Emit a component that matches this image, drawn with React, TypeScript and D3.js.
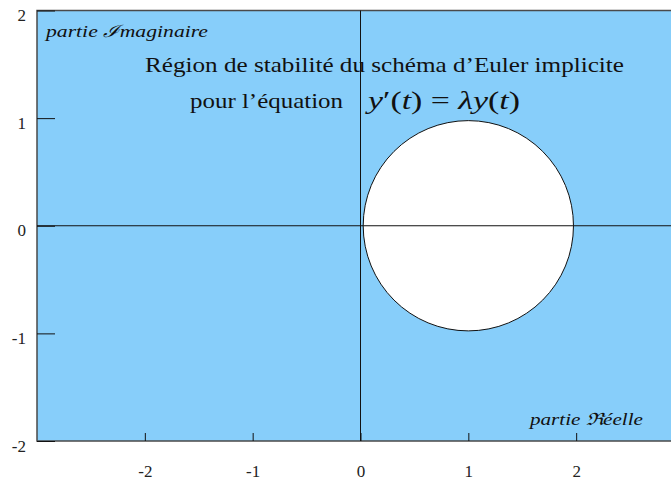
import * as d3 from "d3";
import { useEffect, useRef } from "react";

// axes
const xTicks = [-2, -1, 0, 1, 2];
const yTicks = [-2, -1, 0, 1, 2];
const xDomain = [-3, 3];
const yDomain = [-2, 2];

// disque blanc centré en 1, rayon ~1
const circleCenter = [1, 0];
const circleRadius = 0.975;

const titleLine1 = "Région de stabilité du schéma d’Euler implicite";
const titleLine2 = "pour l’équation";
const labelIm = "ℐmaginaire";
const labelRe = "ℜéelle";

export default function App() {
    const svgRef = useRef<SVGSVGElement>(null);
    const width = 671;
    const height = 481;

    useEffect(() => {
        const svg = d3.select(svgRef.current);
        svg.selectAll("*").remove();

        const x = d3.scaleLinear().domain(xDomain).range([37, 684]);
        const y = d3.scaleLinear().domain(yDomain).range([441, 10.5]);
        const serif = "'Liberation Serif', 'Times New Roman', serif";

        // fond bleu + cadre
        svg.append("rect")
            .attr("x", x(xDomain[0]))
            .attr("y", y(yDomain[1]))
            .attr("width", x(xDomain[1]) - x(xDomain[0]))
            .attr("height", y(yDomain[0]) - y(yDomain[1]))
            .attr("fill", "#87cefa")
            .attr("stroke", "#4a4a4a")
            .attr("stroke-width", 1.5);

        // disque blanc
        svg.append("circle")
            .attr("cx", x(circleCenter[0]))
            .attr("cy", y(circleCenter[1]))
            .attr("r", x(circleRadius) - x(0))
            .attr("fill", "white")
            .attr("stroke", "#111")
            .attr("stroke-width", 1);

        // axes du plan complexe
        svg.append("line")
            .attr("x1", x(0)).attr("x2", x(0))
            .attr("y1", y(yDomain[0])).attr("y2", y(yDomain[1]))
            .attr("stroke", "#111").attr("stroke-width", 1);
        svg.append("line")
            .attr("x1", x(xDomain[0])).attr("x2", x(xDomain[1]))
            .attr("y1", y(0)).attr("y2", y(0))
            .attr("stroke", "#111").attr("stroke-width", 1);

        const xAxis = svg.append("g")
            .attr("transform", `translate(0, ${y(yDomain[0])})`)
            .call(d3.axisBottom(x).tickValues(xTicks).tickSize(-8).tickPadding(24).tickFormat(d => String(d)));
        const yAxis = svg.append("g")
            .attr("transform", `translate(${x(xDomain[0])}, 0)`)
            .call(d3.axisLeft(y).tickValues(yTicks).tickSize(-18).tickPadding(11).tickFormat(d => String(d)));

        [xAxis, yAxis].forEach(a => {
            a.attr("font-family", null).attr("font-size", null);
            a.select(".domain").remove();
            a.selectAll("line").attr("stroke", "#111");
            a.selectAll("text")
                .style("font-family", serif)
                .style("font-size", "17px")
                .attr("fill", "#222");
        });
        yAxis.selectAll("text").attr("dy", "0.6em");

        // titre
        svg.append("text")
            .attr("x", 145).attr("y", 72)
            .attr("font-family", serif).attr("font-size", 22)
            .attr("textLength", 479).attr("lengthAdjust", "spacingAndGlyphs")
            .attr("fill", "#111")
            .text(titleLine1);
        svg.append("text")
            .attr("x", 190).attr("y", 108)
            .attr("font-family", serif).attr("font-size", 22)
            .attr("textLength", 153).attr("lengthAdjust", "spacingAndGlyphs")
            .attr("fill", "#111")
            .text(titleLine2);

        const eq = svg.append("text")
            .attr("x", 368).attr("y", 109)
            .attr("font-family", serif).attr("font-size", 26)
            .attr("textLength", 152).attr("lengthAdjust", "spacingAndGlyphs")
            .attr("fill", "#111");
        const parts: [string, boolean][] = [
            ["y", true], ["′", false], ["(", false], ["t", true], [")", false],
            [" = ", false], ["λ", true], ["y", true], ["(", false], ["t", true], [")", false],
        ];
        parts.forEach(([s, it]) => {
            eq.append("tspan").attr("font-style", it ? "italic" : "normal").text(s);
        });

        // étiquettes des axes
        const im = svg.append("text")
            .attr("x", 46).attr("y", 37)
            .attr("font-family", serif).attr("font-size", 17)
            .attr("font-style", "italic")
            .attr("textLength", 162).attr("lengthAdjust", "spacingAndGlyphs")
            .attr("fill", "#111");
        im.append("tspan").text("partie ");
        im.append("tspan").text(labelIm);

        const re = svg.append("text")
            .attr("x", 530).attr("y", 425)
            .attr("font-family", serif).attr("font-size", 17)
            .attr("font-style", "italic")
            .attr("textLength", 113).attr("lengthAdjust", "spacingAndGlyphs")
            .attr("fill", "#111");
        re.append("tspan").text("partie ");
        re.append("tspan").text(labelRe);
    }, []);

    return (
        <svg
            ref={svgRef}
            width={width}
            height={height}
            style={{ position: "absolute", left: 0, top: 0, display: "block", overflow: "hidden" }}
        />
    );
}
